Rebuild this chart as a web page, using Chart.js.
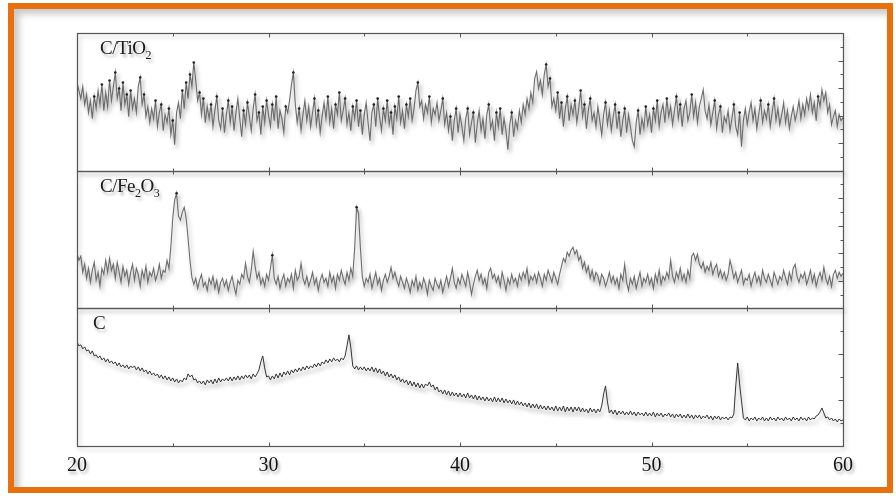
<!DOCTYPE html>
<html>
<head>
<meta charset="utf-8">
<script src="https://cdn.jsdelivr.net/npm/chart.js@4.4.1/dist/chart.umd.min.js"></script>
<style>
    html, body { margin: 0; padding: 0; background: #fff; }
    #wrap { position: relative; width: 896px; height: 496px; overflow: hidden; }
    #xrd { position: absolute; left: 0; top: 0; }
    #frame {
        position: absolute; left: 8px; top: 3px; width: 885px; height: 490px;
        box-sizing: border-box; border: 6px solid #e8710f;
        box-shadow: inset 5px 5px 7px rgba(0, 0, 0, 0.22);
        pointer-events: none;
    }
    .tag {
        position: absolute; font-family: "Liberation Serif", serif; font-size: 19px;
        line-height: 19px; color: #1a1a1a; white-space: nowrap; letter-spacing: -0.5px;
        text-shadow: 2px 3px 3px rgba(0, 0, 0, 0.3);
    }
    .tag sub { font-size: 12px; vertical-align: -5px; line-height: 0; }
</style>
</head>
<body>
<div id="wrap">
    <canvas id="xrd" width="896" height="496"></canvas>
    <div id="frame"></div>
    <div class="tag" style="left:100px; top:38px;">C/TiO<sub>2</sub></div>
    <div class="tag" style="left:100px; top:176px;">C/Fe<sub>2</sub>O<sub>3</sub></div>
    <div class="tag" style="left:93px; top:313px;">C</div>
</div>
<script>
// 2-theta from 20 to 60 deg, step 0.1
const twoTheta = [];
for (let i = 0; i <= 400; i++) twoTheta.push(+(20 + i * 0.1).toFixed(1));

const xTickLabels = [20, 30, 40, 50, 60];
const xTickMarks = [20, 25, 30, 35, 40, 45, 50, 55, 60];

// intensities, arbitrary units (0 - 137.5 per panel)
const tio2 = [
    88, 80, 72, 84, 66, 76, 58, 70, 52, 74,   // 20
    62, 80, 66, 86, 60, 78, 64, 90, 70, 84,   // 21
    98, 72, 82, 60, 88, 66, 76, 54, 80, 62,   // 22
    72, 58, 84, 93, 66, 76, 54, 64, 48, 62,   // 23
    52, 70, 44, 58, 66, 40, 56, 48, 62, 36,   // 24
    50, 26, 58, 68, 52, 80, 62, 88, 72, 96,   // 25
    84, 108, 90, 70, 78, 56, 72, 48, 64, 52,  // 26
    66, 44, 60, 74, 50, 42, 62, 38, 56, 70,   // 27
    48, 64, 40, 58, 72, 52, 34, 60, 46, 68,   // 28
    54, 40, 62, 76, 50, 58, 36, 64, 48, 70,   // 29
    56, 44, 66, 50, 74, 42, 60, 52, 38, 64,   // 30
    58, 70, 86, 98, 66, 48, 62, 40, 56, 70,   // 31
    50, 64, 44, 58, 72, 46, 60, 38, 54, 68,   // 32
    52, 74, 48, 62, 42, 66, 56, 78, 50, 60,   // 33
    72, 46, 58, 40, 64, 52, 70, 44, 60, 36,   // 34
    56, 68, 48, 30, 58, 66, 44, 72, 54, 40,   // 35
    62, 50, 70, 46, 58, 36, 64, 52, 74, 48,   // 36
    60, 42, 66, 54, 72, 50, 62, 80, 88, 64,   // 37
    70, 52, 66, 58, 74, 48, 62, 56, 68, 50,   // 38
    60, 72, 46, 58, 40, 54, 30, 50, 62, 38,   // 39
    56, 44, 30, 52, 62, 36, 48, 58, 28, 46,   // 40
    60, 40, 52, 32, 56, 66, 42, 50, 30, 58,   // 41
    44, 62, 36, 52, 40, 21, 46, 58, 34, 50,   // 42
    42, 60, 48, 66, 56, 72, 62, 78, 68, 92,   // 43
    99, 82, 90, 76, 96, 106, 84, 92, 64, 72,  // 44
    60, 78, 52, 68, 44, 62, 74, 50, 66, 56,   // 45
    70, 48, 62, 80, 54, 66, 42, 60, 72, 50,   // 46
    58, 44, 64, 50, 36, 56, 68, 46, 60, 40,   // 47
    54, 66, 42, 58, 34, 50, 62, 38, 56, 44,   // 48
    30, 24, 48, 60, 36, 52, 42, 64, 46, 56,   // 49
    38, 62, 50, 70, 44, 58, 66, 48, 72, 54,   // 50
    64, 46, 60, 74, 52, 66, 44, 62, 70, 50,   // 51
    58, 76, 54, 68, 48, 64, 72, 81, 60, 52,   // 52
    66, 46, 58, 70, 42, 56, 64, 38, 54, 48,   // 53
    60, 40, 52, 66, 44, 36, 58, 24, 50, 62,   // 54
    46, 58, 68, 50, 62, 42, 56, 70, 48, 60,   // 55
    52, 66, 44, 58, 72, 50, 62, 46, 56, 68,   // 56
    48, 60, 42, 54, 64, 50, 58, 70, 52, 66,   // 57
    56, 72, 62, 76, 58, 68, 50, 74, 64, 81,   // 58
    70, 78, 58, 66, 46, 54, 60, 44, 56, 50,   // 59
    53
];

const fe2o3 = [
    55, 48, 52, 36, 44, 30, 40, 26, 38, 46,   // 20
    28, 36, 22, 40, 34, 48, 36, 50, 38, 44,   // 21
    30, 46, 36, 26, 42, 32, 38, 24, 36, 44,   // 22
    28, 40, 34, 22, 38, 30, 42, 26, 36, 32,   // 23
    40, 28, 34, 44, 30, 38, 36, 48, 40, 61,   // 24
    90, 108, 115, 92, 88, 96, 101, 90, 70, 48, // 25
    31, 24, 30, 20, 28, 34, 22, 26, 18, 30,   // 26
    24, 32, 20, 28, 16, 26, 30, 22, 28, 18,   // 27
    26, 32, 22, 14, 28, 24, 34, 30, 45, 32,   // 28
    26, 38, 57, 42, 30, 36, 24, 30, 22, 34,   // 29
    28, 40, 53, 30, 24, 32, 20, 28, 34, 22,   // 30
    30, 26, 34, 20, 38, 28, 32, 45, 30, 24,   // 31
    32, 22, 28, 36, 24, 30, 18, 28, 34, 26,   // 32
    30, 22, 36, 26, 32, 20, 34, 28, 38, 30,   // 33
    24, 36, 28, 40, 32, 60, 101, 95, 60, 31,  // 34
    22, 30, 26, 34, 20, 28, 36, 24, 30, 18,   // 35
    28, 34, 26, 32, 41, 30, 36, 28, 22, 32,   // 36
    26, 20, 30, 24, 16, 28, 22, 32, 18, 26,   // 37
    20, 30, 24, 14, 28, 22, 18, 30, 24, 20,   // 38
    28, 16, 24, 32, 22, 30, 40, 26, 20, 30,   // 39
    24, 34, 28, 22, 36, 26, 14, 24, 32, 38,   // 40
    28, 34, 24, 30, 20, 36, 40, 30, 34, 26,   // 41
    32, 22, 36, 28, 18, 30, 24, 34, 26, 30,   // 42
    22, 34, 28, 36, 30, 40, 24, 32, 28, 34,   // 43
    26, 36, 30, 22, 34, 28, 38, 32, 26, 36,   // 44
    30, 24, 34, 42, 50, 46, 56, 52, 58, 61,   // 45
    54, 58, 48, 52, 40, 46, 36, 42, 30, 38,   // 46
    28, 36, 32, 24, 34, 30, 22, 28, 36, 26,   // 47
    32, 24, 30, 20, 34, 28, 44, 26, 18, 30,   // 48
    24, 32, 20, 28, 36, 22, 30, 26, 34, 24,   // 49
    30, 20, 34, 26, 38, 24, 32, 28, 36, 30,   // 50
    48, 32, 26, 36, 30, 40, 28, 34, 26, 38,   // 51
    30, 52, 55, 48, 54, 44, 40, 46, 36, 42,   // 52
    38, 46, 34, 40, 44, 32, 38, 30, 36, 28,   // 53
    34, 48, 40, 30, 36, 26, 32, 38, 24, 30,   // 54
    28, 34, 22, 30, 36, 26, 32, 24, 38, 30,   // 55
    26, 34, 28, 22, 36, 30, 24, 32, 28, 38,   // 56
    30, 24, 36, 28, 40, 44, 32, 26, 34, 30,   // 57
    36, 24, 30, 38, 26, 34, 22, 30, 36, 28,   // 58
    41, 30, 24, 32, 22, 34, 38, 30, 36, 32,   // 59
    35
];

const carbon = [
    104, 100, 101, 97, 99, 95, 96, 92, 95, 90, // 20
    91, 88, 90, 86, 88, 84, 87, 83, 85, 82,   // 21
    84, 80, 83, 79, 81, 78, 81, 77, 80, 78,   // 22
    80, 76, 79, 75, 78, 74, 76, 72, 75, 71,   // 23
    73, 70, 72, 68, 71, 67, 70, 66, 69, 65,   // 24
    68, 64, 67, 63, 66, 64, 68, 66, 72, 69,   // 25
    71, 66, 67, 63, 65, 62, 65, 61, 66, 63,   // 26
    66, 62, 67, 63, 68, 64, 67, 65, 68, 65,   // 27
    69, 65, 69, 66, 70, 66, 70, 67, 71, 68,   // 28
    71, 67, 72, 69, 72, 76, 84, 90, 78, 69,   // 29
    70, 66, 70, 67, 72, 68, 73, 69, 74, 71,   // 30
    75, 71, 76, 73, 77, 74, 78, 75, 79, 76,   // 31
    80, 77, 80, 78, 82, 79, 83, 80, 84, 82,   // 32
    86, 83, 87, 84, 88, 85, 87, 84, 88, 86,   // 33
    90, 100, 111, 98, 80, 77, 80, 76, 79, 76, // 34
    79, 75, 78, 75, 79, 74, 78, 73, 77, 72,   // 35
    75, 70, 74, 69, 72, 68, 71, 66, 69, 64,   // 36
    67, 63, 66, 61, 65, 60, 64, 59, 63, 58,   // 37
    62, 58, 62, 60, 64, 59, 61, 56, 59, 54,   // 38
    56, 52, 56, 51, 55, 50, 54, 50, 53, 49,   // 39
    53, 49, 52, 48, 53, 48, 51, 47, 51, 46,   // 40
    50, 46, 49, 45, 49, 45, 48, 44, 49, 44,   // 41
    48, 44, 48, 43, 47, 43, 46, 42, 46, 41,   // 42
    45, 41, 44, 40, 43, 39, 43, 38, 42, 38,   // 43
    42, 37, 41, 37, 40, 36, 40, 36, 39, 35,   // 44
    40, 35, 39, 35, 40, 34, 39, 35, 39, 34,   // 45
    39, 35, 39, 34, 38, 34, 37, 33, 38, 34,   // 46
    37, 33, 37, 34, 40, 52, 60, 44, 33, 36,   // 47
    32, 36, 31, 35, 32, 35, 31, 34, 31, 35,   // 48
    31, 34, 30, 34, 31, 33, 30, 34, 30, 33,   // 49
    30, 34, 29, 33, 30, 33, 29, 32, 30, 33,   // 50
    29, 32, 28, 32, 29, 32, 28, 31, 28, 32,   // 51
    28, 31, 27, 31, 28, 31, 27, 30, 28, 31,   // 52
    27, 30, 26, 30, 27, 30, 26, 29, 27, 29,   // 53
    26, 29, 28, 32, 60, 83, 62, 45, 28, 26,   // 54
    29, 25, 28, 26, 29, 25, 28, 26, 29, 25,   // 55
    28, 25, 29, 26, 28, 25, 29, 26, 28, 25,   // 56
    29, 26, 28, 25, 29, 26, 28, 25, 29, 26,   // 57
    28, 25, 29, 26, 28, 27, 30, 31, 34, 38,   // 58
    33, 28, 29, 26, 28, 25, 27, 24, 27, 25,   // 59
    26
];

// inward tick positions on the right edge of each panel
const rightTicksTop = [13.75, 27.5, 41.25, 55, 68.75, 82.5, 96.25, 110, 123.75];
const rightTicksMid = [13.75, 27.5, 41.25, 55, 68.75, 82.5, 96.25, 110, 123.75];
const rightTicksBottom = [22.9, 45.8, 68.7, 91.6, 114.5];

const toPoints = (vals) => vals.map((v, i) => ({ x: twoTheta[i], y: v }));

// small dark dots on the sharper local maxima, like the scan markers
function peakRadius(ctx) {
    const d = ctx.dataset.data;
    const i = ctx.dataIndex;
    if (i === 0 || i === d.length - 1) return 0;
    const v = d[i].y, a = d[i - 1].y, b = d[i + 1].y;
    return (v > a && v > b && v - Math.min(a, b) >= 22) ? 1.3 : 0;
}

// soft drop shadow under tick labels and traces
const shadows = {
    id: "shadows",
    beforeDraw(chart) {
        const ctx = chart.ctx;
        ctx.save();
        ctx.shadowColor = "rgba(0, 0, 0, 0.3)";
        ctx.shadowBlur = 3;
        ctx.shadowOffsetX = 2;
        ctx.shadowOffsetY = 3;
    },
    beforeDatasetsDraw(chart) {
        chart.ctx.restore();
    },
    beforeDatasetDraw(chart) {
        const ctx = chart.ctx;
        ctx.save();
        ctx.shadowColor = "rgba(0, 0, 0, 0.35)";
        ctx.shadowBlur = 4;
        ctx.shadowOffsetX = 2;
        ctx.shadowOffsetY = 4;
    },
    afterDatasetDraw(chart) {
        chart.ctx.restore();
    },
};

const panelFrames = {
    id: "panelFrames",
    afterDatasetsDraw(chart) {
        const ctx = chart.ctx;
        const area = chart.chartArea;
        const x = chart.scales.x;
        const panels = [
            { scale: chart.scales.yTi, ticks: rightTicksTop },
            { scale: chart.scales.yFe, ticks: rightTicksMid },
            { scale: chart.scales.yC, ticks: rightTicksBottom },
        ];
        ctx.save();
        ctx.shadowColor = "rgba(0, 0, 0, 0.25)";
        ctx.shadowBlur = 4;
        ctx.shadowOffsetX = 2;
        ctx.shadowOffsetY = 3;
        ctx.strokeStyle = "#555";
        ctx.lineWidth = 1.2;
        const left = Math.round(area.left) + 0.5;
        const right = Math.round(area.right) + 0.5;
        panels.forEach((p) => {
            const top = Math.round(p.scale.top) + 0.5;
            const bottom = Math.round(p.scale.bottom) + 0.5;
            ctx.strokeRect(left, top, right - left, bottom - top);
        });
        ctx.shadowColor = "transparent";
        ctx.lineWidth = 1;
        ctx.beginPath();
        panels.forEach((p) => {
            const top = Math.round(p.scale.top) + 0.5;
            const bottom = Math.round(p.scale.bottom) + 0.5;
            xTickMarks.forEach((v) => {
                const px = Math.round(x.getPixelForValue(v)) + 0.5;
                const len = v % 10 === 0 ? 4 : 3;
                ctx.moveTo(px, top);
                ctx.lineTo(px, top + len);
                ctx.moveTo(px, bottom);
                ctx.lineTo(px, bottom - len);
            });
            p.ticks.forEach((v, k) => {
                const py = Math.round(p.scale.getPixelForValue(v)) + 0.5;
                const len = k % 2 === 1 ? 5 : 3;
                ctx.moveTo(right, py);
                ctx.lineTo(right - len, py);
            });
        });
        ctx.stroke();
        ctx.restore();
    },
};

function panelAxis() {
    return {
        type: "linear",
        position: "right",
        stack: "xrd",
        stackWeight: 1,
        min: 0,
        max: 137.5,
        display: false,
    };
}

new Chart(document.getElementById("xrd"), {
    type: "line",
    data: {
        datasets: [
            {
                label: "C/TiO2",
                data: toPoints(tio2),
                yAxisID: "yTi",
                borderColor: "#6c6c6c",
                borderWidth: 1.1,
                pointRadius: peakRadius,
                pointBackgroundColor: "#222",
                pointBorderWidth: 0,
                tension: 0,
            },
            {
                label: "C/Fe2O3",
                data: toPoints(fe2o3),
                yAxisID: "yFe",
                borderColor: "#6c6c6c",
                borderWidth: 1.1,
                pointRadius: peakRadius,
                pointBackgroundColor: "#222",
                pointBorderWidth: 0,
                tension: 0,
            },
            {
                label: "C",
                data: toPoints(carbon),
                yAxisID: "yC",
                borderColor: "#333",
                borderWidth: 1,
                pointRadius: 0,
                tension: 0,
            },
        ],
    },
    options: {
        responsive: false,
        animation: false,
        layout: { padding: { left: 77, right: 53, top: 33, bottom: 0 } },
        plugins: {
            legend: { display: false },
            tooltip: { enabled: false },
        },
        scales: {
            x: {
                type: "linear",
                min: 20,
                max: 60,
                grid: { display: false },
                border: { display: false },
                afterBuildTicks: (axis) => {
                    axis.ticks = xTickLabels.map((v) => ({ value: v }));
                },
                afterFit: (axis) => { axis.height = 50; },
                ticks: {
                    padding: 0,
                    color: "#151515",
                    font: { family: "Liberation Serif", size: 20 },
                    maxRotation: 0,
                },
            },
            yTi: panelAxis(),
            yFe: panelAxis(),
            yC: panelAxis(),
        },
    },
    plugins: [shadows, panelFrames],
});
</script>
</body>
</html>
